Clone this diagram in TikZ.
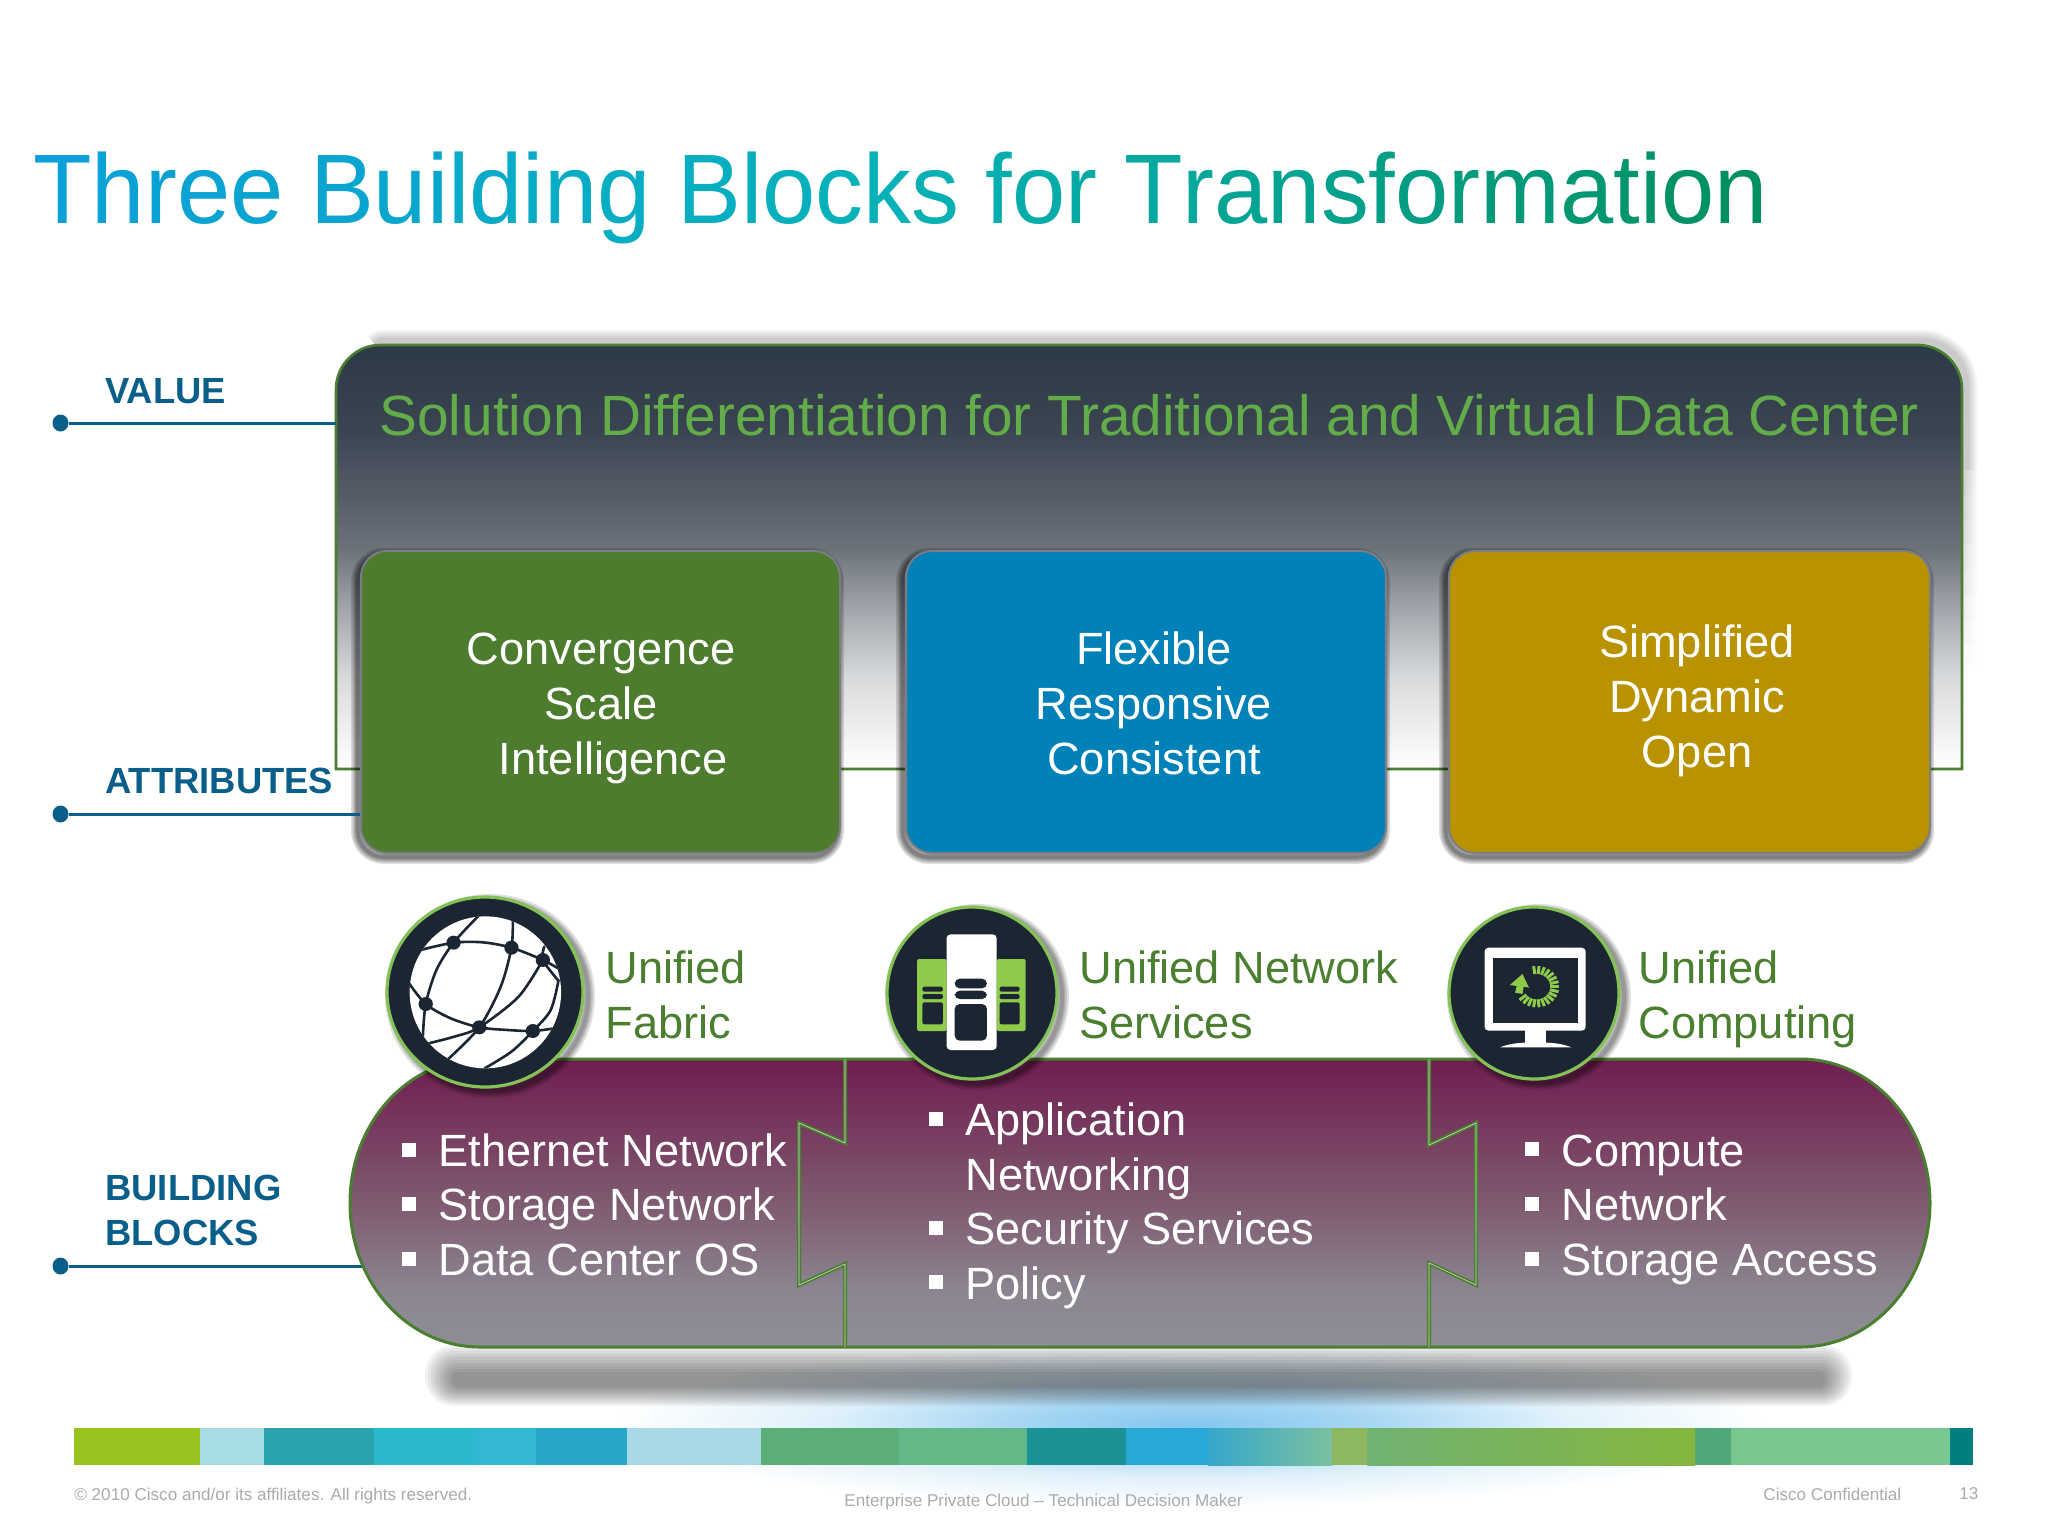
\documentclass[tikz,border=0pt]{standalone}
\usepackage{graphicx}
\usepackage{fontspec}
\setmainfont{Liberation Sans}
\usetikzlibrary{shapes.geometric}
\definecolor{tA}{HTML}{0B9FDB}\definecolor{tB}{HTML}{06B2B8}\definecolor{tC}{HTML}{008F5F}
\definecolor{lblue}{HTML}{0A5F8A}
\definecolor{lgreen}{HTML}{4A7F30}
\definecolor{sgreen}{HTML}{62AC4A}
\definecolor{rimgreen}{HTML}{84C257}
\definecolor{dark}{HTML}{1C2633}
\definecolor{iconlime}{HTML}{8FCB4B}
\definecolor{boxg}{HTML}{4D7C2E}\definecolor{boxb}{HTML}{0081B8}\definecolor{boxy}{HTML}{B99200}
\definecolor{rimgray}{HTML}{7D7D85}
\definecolor{foot}{HTML}{ABABAB}
\definecolor{glowc}{HTML}{84C6EE}
\pgfdeclareverticalshading{panelshade}{100bp}{color(0bp)=(white);color(25bp)=(white);
 rgb(27.25bp)=(.972,.972,.972);rgb(35.75bp)=(.847,.855,.863);rgb(44.15bp)=(.627,.643,.667);
 rgb(51bp)=(.42,.447,.478);rgb(57bp)=(.333,.365,.408);rgb(65.3bp)=(.227,.267,.314);
 rgb(75bp)=(.173,.224,.278);rgb(100bp)=(.173,.224,.278)}
\pgfdeclareverticalshading{bandshade}{100bp}{rgb(0bp)=(.557,.557,.584);rgb(25bp)=(.557,.557,.584);
 rgb(35bp)=(.545,.522,.565);rgb(50bp)=(.498,.353,.44);rgb(75bp)=(.435,.114,.31);rgb(100bp)=(.435,.114,.31)}
\pgfdeclareradialshading{glowshade}{\pgfpoint{0bp}{0bp}}{color(0bp)=(glowc);color(8bp)=(glowc!70!white);color(16bp)=(glowc!25!white);color(25bp)=(white);color(50bp)=(white)}
\newcount\gi
\def\gletter#1{\global\advance\gi by 1
 \ifnum\gi<19 \textcolor{tB!\the\numexpr\gi*100/18\relax!tA}{#1}%
 \else\textcolor{tC!\the\numexpr(\gi-18)*100/18\relax!tB}{#1}\fi}
\def\gwloop#1{\ifx#1\relax\else\gletter{#1}\expandafter\gwloop\fi}
\def\gw#1{\gwloop#1\relax}
\tikzset{
 body/.style={font=\fontsize{22.6}{27}\selectfont,inner sep=0pt,anchor=base west},
 boxtxt/.style={font=\fontsize{22.6}{27}\selectfont,inner sep=0pt,anchor=base,text=white},
 bul/.style={body,text=white},
 uni/.style={body,text=lgreen},
 lab/.style={font=\bfseries\fontsize{18.2}{22}\selectfont,inner sep=0pt,anchor=base west,text=lblue},
 ftr/.style={font=\fontsize{8.55}{10}\selectfont,inner sep=0pt,anchor=base west,text=foot},
 bigbox/.style={rectangle,rounded corners=13pt,draw=rimgray,line width=1pt,inner sep=0pt},
 dotn/.style={ellipse,fill=lblue,inner sep=0pt,minimum width=8pt,minimum height=8.5pt},
 conn/.style={lblue,line width=1.5pt},
 sep/.style={lgreen,line width=2pt,line join=miter},
 sepi/.style={white,line width=.3pt,opacity=.75},
 glob/.style={dark,line width=1.3pt,line cap=round}
}
\newcommand{\softbox}[4]{\foreach \w in {7,5.5,4,2.8,1.6}{\draw[black,opacity=.13,line width=\w pt,rounded corners=13pt] (#1-3,#2+4) rectangle (#3-3,#4+4);}}
\newcommand{\softell}[4]{\foreach \w in {7,5,3.5,2}{\draw[black,opacity=.12,line width=\w pt] (#1+5,#2+4) ellipse [x radius=#3,y radius=#4];}}
\newcommand{\sqb}[2]{\fill[white] (#1-7,#2-7) rectangle (#1+7,#2+7);}
\begin{document}
\begin{tikzpicture}[x=.5pt,y=-.5pt]
\useasboundingbox (0,0) rectangle (2048,1536);
\fill[white] (0,0) rectangle (2048,1536);
% title
\node[inner sep=0pt,anchor=base west,font=\fontsize{49.4}{56}\selectfont] (title) at (33,223)
 {\scalebox{.969}[1]{\gw{Three}\ \gw{Building}\ \gw{Blocks}\ \gw{for}\ \gw{Transformation}}};
% panel shadow and panel
\foreach \w in {11,9,7,5,3}{
 \draw[black,opacity=.045,line width=\w pt] (375,345) .. controls (380,341) .. (384,341) -- (1922,341) .. controls (1946,341) and (1966,361) .. (1966,385) -- (1966,470);}
\foreach \k in {0,...,7}{
 \pgfmathtruncatemacro\sh{20-2.5*\k}
 \shade[left color=black!\sh!white,right color=white] (1963,470+25*\k) rectangle (1978,495+25*\k);}
\draw[lgreen,line width=1.3pt,shading=panelshade,line join=miter] (336,769) -- (336,389) .. controls (336,365) and (356,345) .. (380,345) -- (1918,345) .. controls (1942,345) and (1962,365) .. (1962,389) -- (1962,769) -- cycle;
\coordinate (panelW) at (336,423);
\node[inner sep=0pt,anchor=base west,font=\fontsize{28.4}{34}\selectfont,text=sgreen] (soltxt) at (379,435) {Solution Differentiation for Traditional and Virtual Data Center};
% boxes
\softbox{361}{551}{840}{853}
\softbox{906}{551}{1386}{853}
\softbox{1449}{551}{1930}{853}
\node[bigbox,fill=boxg,minimum width=239.5pt,minimum height=151pt] (boxG) at (600.5,702) {};
\node[bigbox,fill=boxb,minimum width=240pt,minimum height=151pt] (boxB) at (1146,702) {};
\node[bigbox,fill=boxy,minimum width=240.5pt,minimum height=151pt] (boxY) at (1689.5,702) {};
\node[boxtxt] (g1) at (601,664.5) {Convergence};
\node[boxtxt] (g2) at (601,719.5) {Scale};
\node[boxtxt] (g3) at (613,774.5) {Intelligence};
\node[boxtxt] (b1) at (1154,664.5) {Flexible};
\node[boxtxt] (b2) at (1154,719.5) {Responsive};
\node[boxtxt] (b3) at (1154,774.5) {Consistent};
\node[boxtxt] (y1) at (1697,657) {Simplified};
\node[boxtxt] (y2) at (1697,712) {Dynamic};
\node[boxtxt] (y3) at (1697,767) {Open};
% left labels
\node[lab] (lv) at (105,403) {VALUE};
\node[lab] (la) at (105,793) {ATTRIBUTES};
\node[lab] (lb1) at (105,1200) {BUILDING};
\node[lab] (lb2) at (105,1245) {BLOCKS};
\node[dotn] (dv) at (60.5,423) {};
\node[dotn] (da) at (60.5,814) {};
\node[dotn] (db) at (60.5,1266) {};
\draw[conn] (dv) -- (panelW);
\draw[conn] (da) -- (boxG.west |- da);
\coordinate (bandW) at (368,1266);
\draw[conn] (db) -- (bandW);
% glow
\shade[shading=glowshade] (1190,1425) ellipse [x radius=580,y radius=82];
% band shadow
\foreach \i in {0,3,...,27}{
 \pgfmathsetmacro\rr{(61-1.7*\i)/4.2}
 \fill[black,opacity=.05,rounded corners=\rr pt] (425+\i,1345+\i) rectangle (1852-\i,1406-\i*.7);}
% strip
\foreach \a/\b/\c in {74.4/199.8/96C31E,199.8/263.8/A8DCE4,263.8/373.5/2AA3AE,373.5/472.8/2AB8CB,472.8/535.5/32B8D4,535.5/626.9/28A6C8,626.9/761.4/A8D9E4,761.4/898.6/5CAE78,898.6/1026.6/62B886,1026.6/1125.8/1B9296,1125.8/1208/28A8D6,1332/1367.4/8DB860,1695.2/1730.5/50A878,1730.5/1950/78C690,1950/1973.4/007F80}{
 \definecolor{seg}{HTML}{\c}\fill[seg] (\a,1428) rectangle (\b,1465);}
\definecolor{seg1}{HTML}{35A8CC}\definecolor{seg2}{HTML}{7CC0A0}
\definecolor{seg3}{HTML}{70B272}\definecolor{seg4}{HTML}{84B63E}
\shade[left color=seg1,right color=seg2] (1208,1428) rectangle (1332,1465);
\shade[left color=seg3,right color=seg4] (1367.4,1428) rectangle (1695.2,1465);
% footer
\node[ftr] (f1) at (74,1500) {© 2010 Cisco and/or its affiliates. All rights reserved.};
\node[ftr] (f2) at (844,1506) {Enterprise Private Cloud – Technical Decision Maker};
\node[ftr] (f3) at (1763,1500) {Cisco Confidential};
\node[ftr] (f4) at (1959,1499) {13};
% band
\draw[lgreen,line width=1.5pt,shading=bandshade] (480,1059) -- (1800,1059) .. controls (1872,1059) and (1930,1123) .. (1930,1203) .. controls (1930,1283) and (1872,1347) .. (1800,1347) -- (480,1347) .. controls (408,1347) and (350,1283) .. (350,1203) .. controls (350,1123) and (408,1059) .. (480,1059) -- cycle;
\foreach \st in {sep,sepi}{
 \draw[\st] (845,1059) -- (845,1143) -- (799,1123) -- (799,1285) -- (845,1264) -- (845,1347);
 \draw[\st] (1429,1059) -- (1429,1145) -- (1476,1123) -- (1476,1285) -- (1429,1263) -- (1429,1347);}
% band texts
\sqb{409}{1150}\sqb{409}{1204}\sqb{409}{1259}
\node[bul] (t1) at (438,1166) {Ethernet Network};
\node[bul] (t2) at (438,1220.5) {Storage Network};
\node[bul] (t3) at (438,1275) {Data Center OS};
\sqb{936}{1119}\sqb{936}{1228}\sqb{936}{1282}
\node[bul] (t4) at (965,1135.5) {Application};
\node[bul] (t5) at (965,1190) {Networking};
\node[bul] (t6) at (965,1244.5) {Security Services};
\node[bul] (t7) at (965,1299) {Policy};
\sqb{1532}{1149}\sqb{1532}{1204}\sqb{1532}{1259}
\node[bul] (t8) at (1561,1166) {Compute};
\node[bul] (t9) at (1561,1220.5) {Network};
\node[bul] (t10) at (1561,1275) {Storage Access};
% unified labels
\node[uni] (u1) at (605,983) {Unified};
\node[uni] (u2) at (605,1038) {Fabric};
\node[uni] (u3) at (1079,983) {Unified Network};
\node[uni] (u4) at (1079,1038) {Services};
\node[uni] (u5) at (1638,983) {Unified};
\node[uni] (u6) at (1638,1038) {Computing};
% icon discs
\softell{485}{992}{98}{95}
\softell{972}{993}{85}{86}
\softell{1534}{993}{85}{86}
\draw[rimgreen,fill=dark,line width=1.6pt] (485,992) ellipse [x radius=98,y radius=95];
\draw[rimgreen,fill=dark,line width=1.6pt] (972,993) ellipse [x radius=85,y radius=86];
\draw[rimgreen,fill=dark,line width=1.6pt] (1534,993) ellipse [x radius=85,y radius=86];
% globe, in crop coordinates
\begin{scope}[shift={(340,880)},xscale=.35714,yscale=.33333]
 \fill[white] (407,337) ellipse [x radius=212,y radius=228];
 \begin{scope}
 \clip (407,337) ellipse [x radius=212,y radius=228];
 \draw[glob] plot[smooth] coordinates {(225,210) (318,188) (400,187) (480,203) (568,240) (615,268)};
 \draw[glob] plot[smooth] coordinates {(190,305) (240,372) (310,415) (390,442) (470,450) (540,453) (600,445)};
 \draw[glob] plot[smooth] coordinates {(390,105) (318,188) (270,270) (240,372) (232,470)};
 \draw[glob] plot[smooth] coordinates {(484,120) (480,203) (450,320) (390,442) (300,540)};
 \draw[glob] plot[smooth] coordinates {(568,240) (500,350) (390,442) (320,470) (240,492)};
 \draw[glob] plot[smooth] coordinates {(612,300) (590,390) (540,453) (480,515) (405,565)};
 \draw[glob] plot[smooth] coordinates {(572,200) (568,240) (610,300)};
 \end{scope}
 \foreach \px/\py in {318/188,480/203,568/240,240/372,390/442,540/453}{
  \fill[dark] (\px,\py) ellipse [x radius=20,y radius=21];}
\end{scope}
% network services icon
\begin{scope}[shift={(860,880)},xscale=.40816,yscale=.33333]
 \fill[iconlime,rounded corners=1pt] (140,237) rectangle (212,453);
 \fill[iconlime,rounded corners=1pt] (335,237) rectangle (406,453);
 \fill[white,rounded corners=2pt] (212,163) rectangle (335,510);
 \foreach \xa/\xb in {153/203,342/391}{
  \fill[dark,rounded corners=1pt] (\xa,320) rectangle (\xb,335);
  \fill[dark,rounded corners=1pt] (\xa,342) rectangle (\xb,357);
  \fill[dark,rounded corners=1pt] (\xa,367) rectangle (\xb,433);}
 \fill[dark,rounded corners=2.5pt] (232,296) rectangle (311,325);
 \fill[dark,rounded corners=2.5pt] (232,332) rectangle (311,357);
 \fill[dark,rounded corners=2.5pt] (232,372) rectangle (311,482);
\end{scope}
% computing icon
\begin{scope}[shift={(1400,880)},xscale=.40816,yscale=.33333]
 \fill[white,rounded corners=2pt] (207,203) rectangle (455,452);
 \fill[dark] (228,233) rectangle (437,428);
 \fill[white] (305,450) rectangle (358,492);
 \fill[white] (245,502) .. controls (265,492) and (290,488) .. (310,488) -- (355,488) .. controls (375,488) and (400,492) .. (420,502) -- cycle;
 \foreach \a in {98,84,...,-140}{
  \draw[iconlime,line width=1.5pt] ({335+33*cos(\a)},{320-38*sin(\a)}) -- ({335+55*cos(\a)},{320-62*sin(\a)});}
 \fill[iconlime] (300,282) -- (316,323) -- (303,320) -- (300,342) -- (282,338) -- (286,318) -- (269,315) -- cycle;
\end{scope}
\end{tikzpicture}
\end{document}
